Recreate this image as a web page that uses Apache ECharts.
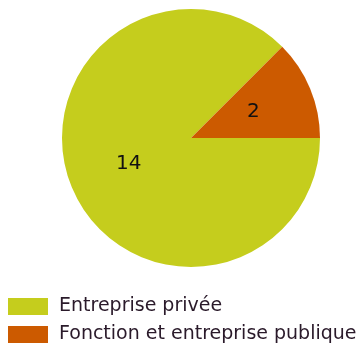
<!DOCTYPE html>
<html>
<head>
<meta charset="utf-8">
<script src="https://cdn.jsdelivr.net/npm/echarts@6/dist/echarts.min.js"></script>
<style>
  html, body { margin: 0; padding: 0; background: #fff; }
  #chart { width: 363px; height: 345px; }
</style>
</head>
<body>
<div id="chart"></div>
<script>
// données du graphique
var categories = ['Entreprise privée', 'Fonction et entreprise publique'];
var values = [14, 2];
var colors = ['#C5CD1D', '#CC5A00'];

var myChart = echarts.init(document.getElementById('chart'));
var option = {
    animation: false,
    color: colors,
    legend: {
        orient: 'vertical',
        left: 8,
        top: 297,
        height: 48,
        padding: 0,
        itemWidth: 40,
        itemHeight: 17,
        itemGap: 9,
        icon: 'rect',
        textStyle: {
            fontFamily: 'DejaVu Sans',
            fontSize: 19,
            color: '#2a1a2a',
            padding: [0, 0, 0, 6]
        },
        data: categories
    },
    series: [{
        type: 'pie',
        center: [191, 138],
        radius: 129,
        startAngle: 0,
        clockwise: true,
        label: {
            show: true,
            position: 'inside',
            formatter: '{c}',
            fontFamily: 'DejaVu Sans',
            fontSize: 20,
            color: '#111'
        },
        labelLine: { show: false },
        itemStyle: { borderWidth: 0 },
        emphasis: { disabled: true },
        data: categories.map(function (name, i) {
            return { name: name, value: values[i] };
        })
    }]
};
myChart.setOption(option);
</script>
</body>
</html>
